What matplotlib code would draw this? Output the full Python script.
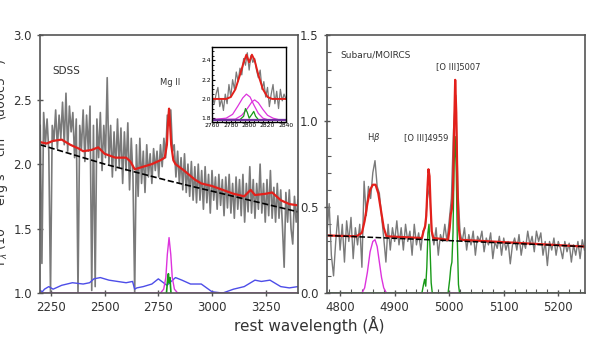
import numpy as np
import matplotlib
matplotlib.use('Agg')
from matplotlib import pyplot as plt
from matplotlib.ticker import MultipleLocator


###########################################################################################
###########   DATA  #######################################################################
###########################################################################################

# SDSS spectrum (left panel), sampled every 8 A from 2200 A
sdss_start, sdss_step = 2200, 8
sdss_flux = [
	2.30, 1.23, 2.40, 2.15, 2.35, 2.10, 1.00, 2.30, 2.18, 2.42,
	2.12, 2.38, 2.20, 2.48, 2.15, 2.55, 2.10, 2.45, 2.25, 2.40,
	2.05, 2.35, 1.00, 2.30, 2.12, 2.42, 2.02, 2.38, 2.10, 2.45,
	1.02, 2.30, 1.05, 2.35, 2.05, 2.40, 1.95, 2.30, 2.05, 2.67,
	2.00, 2.30, 1.90, 2.25, 1.95, 2.35, 1.98, 2.28, 1.85, 2.25,
	1.95, 2.32, 1.80, 2.20, 1.90, 1.00, 2.15, 1.75, 2.20, 1.85,
	2.10, 1.78, 2.15, 1.90, 2.08, 1.85, 2.12, 1.95, 2.10, 1.90,
	2.15, 1.98, 2.20, 2.05, 2.38, 2.30, 2.42, 2.10, 2.15, 1.90,
	2.10, 1.85, 2.05, 1.80, 2.08, 1.78, 2.00, 1.75, 2.02, 1.72,
	1.98, 1.70, 2.00, 1.72, 1.95, 1.65, 1.98, 1.70, 1.92, 1.62,
	1.95, 1.72, 1.90, 1.65, 1.92, 1.68, 1.88, 1.60, 1.90, 1.66,
	1.92, 1.62, 1.85, 1.58, 1.90, 1.65, 1.88, 1.60, 1.92, 1.55,
	1.85, 1.63, 1.98, 1.62, 1.88, 1.58, 1.85, 1.65, 2.00, 1.62,
	1.85, 1.55, 1.88, 1.60, 1.95, 1.58, 1.82, 1.55, 1.85, 1.58,
	1.80, 1.52, 1.20, 1.78, 1.55, 1.80, 1.50, 1.38, 1.75, 1.55,
	1.72]

# SDSS total model (red)
sdss_model_wave = [2200, 2230, 2260, 2300, 2340, 2380, 2400, 2440, 2470, 2500, 2550,
	2600, 2620, 2640, 2680, 2720, 2760, 2780, 2790, 2795, 2800, 2805, 2810, 2820,
	2830, 2870, 2920, 2950, 3000, 3050, 3100, 3150, 3180, 3200, 3250, 3280, 3320,
	3360, 3400]
sdss_model_flux = [2.17, 2.16, 2.18, 2.19, 2.15, 2.12, 2.10, 2.11, 2.13, 2.08, 2.05,
	2.05, 2.02, 1.96, 1.98, 2.00, 2.03, 2.05, 2.15, 2.32, 2.43, 2.30, 2.15, 2.03,
	2.00, 1.95, 1.88, 1.85, 1.83, 1.80, 1.77, 1.75, 1.80, 1.76, 1.77, 1.78, 1.72,
	1.69, 1.68]

# SDSS power-law continuum (black dashed)
sdss_cont_wave = [2200, 2500, 2800, 3100, 3400]
sdss_cont_flux = [2.15, 2.00, 1.87, 1.75, 1.63]

# FeII template (blue)
fe_wave = [2200, 2210, 2220, 2240, 2260, 2300, 2350, 2400, 2430, 2450, 2480, 2520,
	2560, 2600, 2630, 2640, 2650, 2680, 2720, 2750, 2790, 2830, 2860, 2900, 2950,
	3000, 3050, 3100, 3150, 3200, 3230, 3270, 3320, 3360, 3400]
fe_flux = [1.02, 1.01, 1.03, 1.05, 1.03, 1.06, 1.08, 1.07, 1.08, 1.11, 1.12, 1.10,
	1.09, 1.08, 1.09, 1.03, 1.04, 1.05, 1.07, 1.11, 1.06, 1.12, 1.10, 1.07, 1.07,
	1.01, 1.00, 1.03, 1.05, 1.10, 1.09, 1.10, 1.05, 1.04, 1.05]

# Mg II broad (magenta) and narrow (green) components
mg_broad_wave = [2200, 2760, 2775, 2785, 2792, 2800, 2808, 2815, 2825, 2840, 3400]
mg_broad_flux = [1.00, 1.00, 1.03, 1.12, 1.30, 1.43, 1.30, 1.12, 1.03, 1.00, 1.00]
mg_narrow_wave = [2788, 2793, 2797, 2800, 2804, 2809]
mg_narrow_flux = [1.00, 1.10, 1.15, 1.08, 1.12, 1.00]

# inset: zoom on Mg II
ins_start, ins_step = 2760, 2
ins_flux = [2.02, 1.95, 2.05, 2.12, 1.92, 2.00, 1.88, 2.05, 1.95, 2.15,
	2.02, 2.20, 2.10, 2.28, 2.18, 2.32, 2.25, 2.42, 2.35, 2.48,
	2.30, 2.45, 2.38, 2.42, 2.30, 2.22, 2.30, 2.10, 2.18, 2.02,
	2.12, 1.92, 2.05, 2.15, 1.95, 2.08, 1.90, 2.10, 1.98, 2.05,
	2.00]
ins_model_wave = [2760, 2775, 2780, 2785, 2790, 2794, 2797, 2800, 2803, 2806, 2810,
	2815, 2820, 2825, 2840]
ins_model_flux = [2.00, 2.00, 2.02, 2.10, 2.25, 2.38, 2.46, 2.38, 2.46, 2.40, 2.25,
	2.10, 2.02, 2.00, 2.00]
ins_b1_wave = [2760, 2775, 2782, 2788, 2793, 2797, 2801, 2805, 2810, 2815, 2820, 2840]
ins_b1_flux = [1.785, 1.80, 1.84, 1.93, 2.01, 2.05, 2.02, 1.94, 1.85, 1.80, 1.785, 1.785]
ins_b2_wave = [2760, 2785, 2792, 2798, 2803, 2806, 2810, 2815, 2820, 2826, 2832, 2840]
ins_b2_flux = [1.785, 1.79, 1.83, 1.90, 1.97, 1.99, 1.96, 1.89, 1.83, 1.80, 1.785, 1.785]
ins_n_wave = [2760, 2790, 2794, 2796, 2798, 2800, 2803, 2805, 2807, 2810, 2840]
ins_n_flux = [1.785, 1.785, 1.82, 1.90, 1.86, 1.80, 1.84, 1.87, 1.82, 1.785, 1.785]

# Subaru/MOIRCS spectrum (right panel), sampled every 4 A from 4776 A
moircs_start, moircs_step = 4776, 4
moircs_flux = [
	0.35, 0.52, 0.22, 0.10, 0.30, 0.45, 0.25, 0.40, 0.18, 0.42,
	0.30, 0.44, 0.20, 0.38, 0.28, 0.40, 0.15, 0.65, 0.45, 0.62,
	0.55, 0.70, 0.77, 0.62, 0.58, 0.45, 0.32, 0.18, 0.40, 0.25,
	0.38, 0.30, 0.42, 0.28, 0.38, 0.25, 0.40, 0.30, 0.36, 0.22,
	0.40, 0.28, 0.35, 0.25, 0.36, 0.38, 0.55, 0.62, 0.35, 0.28,
	0.38, 0.22, 0.34, 0.30, 0.40, 0.30, 0.42, 0.55, 0.95, 1.15,
	0.60, 0.35, 0.30, 0.38, 0.25, 0.34, 0.28, 0.36, 0.22, 0.33,
	0.30, 0.36, 0.24, 0.32, 0.28, 0.35, 0.20, 0.30, 0.26, 0.33,
	0.22, 0.32, 0.25, 0.30, 0.17, 0.28, 0.32, 0.25, 0.34, 0.22,
	0.30, 0.26, 0.36, 0.28, 0.33, 0.24, 0.36, 0.30, 0.35, 0.22,
	0.30, 0.16, 0.30, 0.25, 0.32, 0.22, 0.30, 0.26, 0.20, 0.30,
	0.24, 0.29, 0.18, 0.28, 0.22, 0.30, 0.20, 0.31, 0.25]

moircs_model_wave = [4776, 4830, 4840, 4845, 4850, 4855, 4860, 4865, 4870, 4875, 4880,
	4885, 4950, 4953, 4956, 4958, 4960, 4962, 4964, 4966, 4968, 4971, 4998, 5001,
	5003, 5005, 5007, 5009, 5011, 5013, 5015, 5017, 5020, 5250]
moircs_model_flux = [0.335, 0.33, 0.35, 0.42, 0.52, 0.60, 0.63, 0.63, 0.58, 0.48, 0.38,
	0.33, 0.32, 0.36, 0.39, 0.45, 0.60, 0.72, 0.68, 0.50, 0.36, 0.32, 0.31, 0.38,
	0.46, 0.49, 0.60, 0.95, 1.24, 1.05, 0.65, 0.40, 0.31, 0.27]

moircs_cont_wave = [4776, 5000, 5250]
moircs_cont_flux = [0.335, 0.305, 0.27]

hb_wave = [4776, 4840, 4845, 4850, 4855, 4860, 4864, 4868, 4872, 4876, 4880, 4885, 5250]
hb_flux = [0.0, 0.0, 0.03, 0.12, 0.24, 0.30, 0.31, 0.27, 0.18, 0.09, 0.03, 0.0, 0.0]

oiii_wave = [4776, 4950, 4953, 4955, 4957, 4959, 4961, 4963, 4965, 4967, 4969, 4998,
	5001, 5003, 5005, 5007, 5009, 5011, 5013, 5015, 5017, 5019, 5250]
oiii_flux = [0.0, 0.0, 0.05, 0.08, 0.04, 0.15, 0.35, 0.40, 0.25, 0.06, 0.0, 0.0,
	0.08, 0.15, 0.18, 0.35, 0.75, 0.91, 0.70, 0.30, 0.05, 0.0, 0.0]

GRAY = '#7a7a7a'
RED = '#e3201b'
BLUE = '#4d4de8'
MAGENTA = '#dd33dd'
GREEN = '#189a18'


###########################################################################################
###########   PLOTTING  ###################################################################
###########################################################################################

def styleAxis(ax):
	# common tick / spine look
	for s in ax.spines.values():
		s.set_color('#555555')
		s.set_linewidth(1.2)
	ax.tick_params(which='major', direction='inout', length=5, width=1,
		colors='#555555', labelcolor='#333333', labelsize=8.5)
	ax.tick_params(which='minor', direction='in', length=3, width=0.8, colors='#555555')


fig = plt.figure(figsize=(6.0, 3.38), dpi=100)

# ---- left panel: SDSS ----
axL = fig.add_axes([0.067, 0.133, 0.4295, 0.763])
sdss_wave = sdss_start + sdss_step * np.arange(len(sdss_flux))
axL.plot(sdss_wave, sdss_flux, color=GRAY, lw=1.2)
axL.plot(fe_wave, fe_flux, color=BLUE, lw=1.0)
axL.plot(mg_broad_wave, mg_broad_flux, color=MAGENTA, lw=1.0)
axL.plot(mg_narrow_wave, mg_narrow_flux, color=GREEN, lw=1.2)
axL.plot(sdss_model_wave, sdss_model_flux, color=RED, lw=1.6)
axL.plot(sdss_cont_wave, sdss_cont_flux, color='black', lw=1.2, ls='--')
axL.set_xlim(2200, 3400)
axL.set_ylim(1.0, 3.0)
axL.set_xticks([2250, 2500, 2750, 3000, 3250])
axL.set_yticks([1.0, 1.5, 2.0, 2.5, 3.0])
styleAxis(axL)
axL.text(2256, 2.70, 'SDSS', fontsize=7.5, color='#333333')
axL.text(2805, 2.61, 'Mg II', fontsize=6, color='#333333', ha='center')

# inset
axI = fig.add_axes([0.354, 0.639, 0.1225, 0.222])
ins_wave = ins_start + ins_step * np.arange(len(ins_flux))
axI.plot(ins_wave, ins_flux, color=GRAY, lw=0.9)
axI.plot(ins_b1_wave, ins_b1_flux, color=MAGENTA, lw=0.9)
axI.plot(ins_b2_wave, ins_b2_flux, color=MAGENTA, lw=0.9)
axI.plot(ins_n_wave, ins_n_flux, color=GREEN, lw=0.9)
axI.plot(ins_model_wave, ins_model_flux, color=RED, lw=1.4)
axI.axhline(1.785, color='#7030a0', lw=1.6)
axI.set_xlim(2760, 2840)
axI.set_ylim(1.76, 2.54)
axI.set_xticks([2760, 2780, 2800, 2820, 2840])
axI.set_yticks([1.8, 2.0, 2.2, 2.4])
axI.xaxis.set_minor_locator(MultipleLocator(5))
axI.yaxis.set_minor_locator(MultipleLocator(0.05))
for s in axI.spines.values():
	s.set_linewidth(1.0)
axI.tick_params(which='major', direction='in', length=2.5, labelsize=4.3, pad=1)
axI.tick_params(which='minor', direction='in', length=1.5)

# ---- right panel: Subaru/MOIRCS ----
axR = fig.add_axes([0.545, 0.133, 0.43, 0.763])
moircs_wave = moircs_start + moircs_step * np.arange(len(moircs_flux))
axR.plot(moircs_wave, moircs_flux, color=GRAY, lw=1.0)
axR.plot(hb_wave, hb_flux, color=MAGENTA, lw=1.0)
axR.plot(oiii_wave, oiii_flux, color=GREEN, lw=1.0)
axR.plot(moircs_model_wave, moircs_model_flux, color=RED, lw=1.6)
axR.plot(moircs_cont_wave, moircs_cont_flux, color='black', lw=1.1, ls='--')
axR.set_xlim(4776, 5249)
axR.set_ylim(0.0, 1.5)
axR.set_xticks([4800, 4900, 5000, 5100, 5200])
axR.set_yticks([0.0, 0.5, 1.0, 1.5])
axR.xaxis.set_minor_locator(MultipleLocator(20))
axR.yaxis.set_minor_locator(MultipleLocator(0.1))
styleAxis(axR)
axR.text(4800, 1.37, 'Subaru/MOIRCS', fontsize=6.5, color='#333333')
axR.text(4862, 0.89, r'H$\beta$', fontsize=6, color='#333333', ha='center')
axR.text(4957, 0.89, '[O III]4959', fontsize=6, color='#333333', ha='center')
axR.text(5016, 1.30, '[O III]5007', fontsize=6, color='#333333', ha='center')

fig.text(0.515, 0.038, 'rest wavelength (\u00c5)', fontsize=11, color='#333333',
	ha='center', va='center')
fig.text(0.003, 0.52, r'F$_\lambda$ (10$^{-17}$ erg s$^{-1}$ cm$^{-2}$ \u00c5$^{-1}$)',
	fontsize=9, color='#333333', rotation=90, ha='center', va='center')

fig.savefig('out.png', dpi=100)
